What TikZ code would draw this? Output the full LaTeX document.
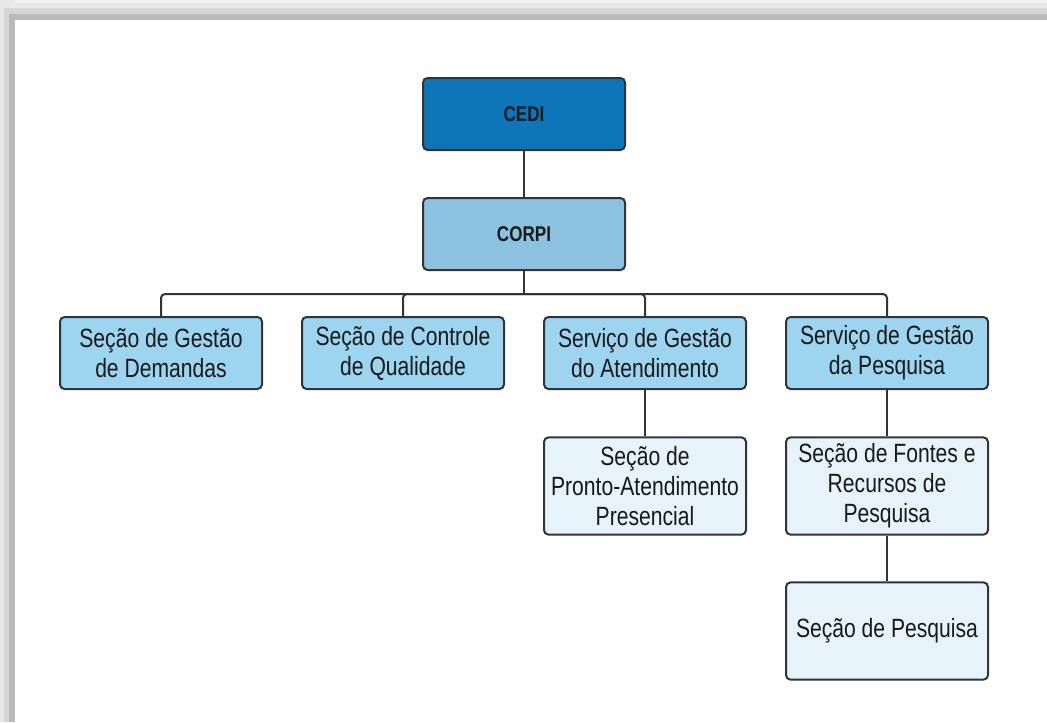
\documentclass[tikz,border=0pt]{standalone}
\usepackage{fontspec}
\setmainfont[FakeStretch=0.8]{Liberation Sans}
\usetikzlibrary{positioning}

\definecolor{cedblue}{RGB}{14,117,184}
\definecolor{corblue}{RGB}{140,194,224}
\definecolor{secblue}{RGB}{157,212,240}
\definecolor{leafblue}{RGB}{230,243,251}
\definecolor{linegray}{RGB}{51,51,51}

\begin{document}
\begin{tikzpicture}[x=0.75pt, y=-0.75pt,
    box/.style={rectangle, draw=linegray, line width=1.5pt, rounded corners=1.2mm,
        minimum width=151.5pt, minimum height=54pt, inner sep=0pt,
        text centered, align=center, text=black!90,
        font=\fontsize{19.8}{22.5}\selectfont},
    top/.style={box, fill=cedblue, font=\bfseries\fontsize{16}{18}\selectfont},
    mid/.style={box, fill=corblue, font=\bfseries\fontsize{16}{18}\selectfont},
    sec/.style={box, fill=secblue},
    leaf/.style={box, fill=leafblue, minimum height=73pt},
    link/.style={draw=linegray, line width=1.5pt}
]

% page and shadow frame
\fill[white] (0,0) rectangle (1047,722);
\fill[black!5] (0,0) rectangle (1047,20);
\fill[black!9] (0,3) rectangle (1047,20);
\fill[black!16] (0,8) rectangle (1047,20);
\fill[black!27] (0,14) rectangle (1047,20);
\fill[black!9] (0,0) rectangle (15,722);
\fill[black!16] (4,8) rectangle (15,722);
\fill[black!27] (9,14) rectangle (15,722);

\node [top] (cedi) at (524,114) {CEDI};
\node [mid] (corpi) at (524,234) {CORPI};

\node [sec] (demandas) at (161,353) {Seção de Gestão\\de Demandas};
\node [sec] (qualidade) at (403,353) {Seção de Controle\\de Qualidade};
\node [sec] (atend) at (645,353) {Serviço de Gestão\\do Atendimento};
\node [sec] (pesq) at (887,353) {Serviço de Gestão\\da Pesquisa};

\node [leaf] (pronto) at (645,486) {Seção de\\Pronto-Atendimento\\Presencial};
\node [leaf] (fontes) at (887,486) {Seção de Fontes e\\Recursos de\\Pesquisa};
\node [leaf] (secpesq) at (887,631) {Seção de Pesquisa};

\coordinate (bus) at (524,294);

\draw [link] (cedi) -- (corpi);
\draw [link] (corpi) -- (bus);
\draw [link, rounded corners=3pt] (demandas.north) |- (bus) -| (pesq.north);
\draw [link, rounded corners=3pt] (qualidade.north) |- (bus);
\draw [link, rounded corners=3pt] (atend.north) |- (bus);
\draw [link] (atend) -- (pronto);
\draw [link] (pesq) -- (fontes);
\draw [link] (fontes) -- (secpesq);

\end{tikzpicture}
\end{document}
